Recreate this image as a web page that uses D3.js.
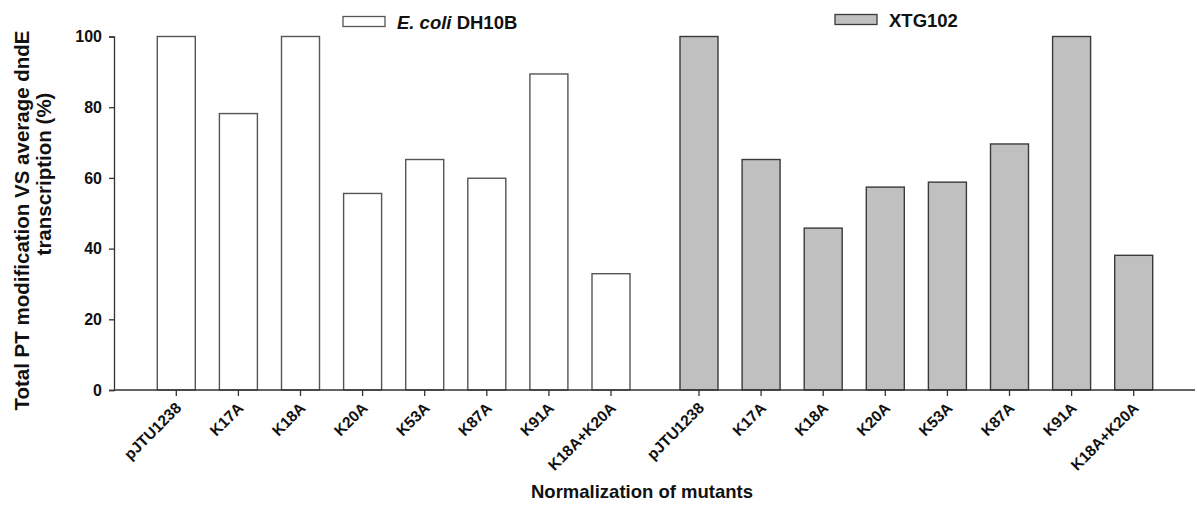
<!DOCTYPE html>
<html>
<head>
<meta charset="utf-8">
<script src="https://cdn.jsdelivr.net/npm/d3@7"></script>
<style>
  body { margin: 0; background: #fff; }
  text { font-family: "Liberation Sans", Arial, sans-serif; font-weight: bold; fill: #111; }
</style>
</head>
<body>
<script>
// categories and values
var mutants = ["pJTU1238", "K17A", "K18A", "K20A", "K53A", "K87A", "K91A", "K18A+K20A"];
var ecoliValues = [100, 78.2, 100, 55.6, 65.2, 59.9, 89.4, 32.9];
var xtgValues = [100, 65.2, 45.8, 57.4, 58.8, 69.6, 100, 38.1];
var yTicks = [0, 20, 40, 60, 80, 100];
var strains = ["E. coli DH10B", "XTG102"];

var width = 1197, height = 505;

var svg = d3.select("body").append("svg")
  .attr("width", width)
  .attr("height", height);

// gray group sits a bit further than one slot after the white one
var groupGap = 1.417;
var bars = [];
mutants.forEach(function (m, i) {
  bars.push({ name: m, value: ecoliValues[i], slot: i, group: 0 });
});
mutants.forEach(function (m, i) {
  bars.push({ name: m, value: xtgValues[i], slot: 7 + groupGap + i, group: 1 });
});

var x = d3.scaleLinear().domain([0, 14 + groupGap]).range([176.3, 1133.7]);
var y = d3.scaleLinear().domain([0, 100]).range([390, 36.5]);
var barW = 38;
var fill = d3.scaleOrdinal().domain([0, 1]).range(["#ffffff", "#c0c0c0"]);
var edge = d3.scaleOrdinal().domain([0, 1]).range(["#555555", "#3a3a3a"]);

// bars
svg.append("g").selectAll("rect")
  .data(bars)
  .enter().append("rect")
  .attr("x", function (d) { return x(d.slot) - barW / 2; })
  .attr("y", function (d) { return y(d.value); })
  .attr("width", barW)
  .attr("height", function (d) { return y(0) - y(d.value); })
  .attr("fill", function (d) { return fill(d.group); })
  .attr("stroke", function (d) { return edge(d.group); })
  .attr("stroke-width", 1.4);

// y axis
var yAxis = svg.append("g")
  .attr("transform", "translate(114,0)")
  .call(d3.axisLeft(y).tickValues(yTicks).tickSize(5).tickPadding(7));
yAxis.select(".domain").attr("stroke", "#333").attr("stroke-width", 1.3);
yAxis.selectAll(".tick line").attr("stroke", "#333").attr("stroke-width", 1.3);
yAxis.selectAll("text").style("font-size", "16px").attr("fill", "#111");

// x axis line and ticks
svg.append("line")
  .attr("x1", 114).attr("x2", 1195)
  .attr("y1", y(0)).attr("y2", y(0))
  .attr("stroke", "#333").attr("stroke-width", 1.3);

svg.append("g").selectAll("line")
  .data(bars)
  .enter().append("line")
  .attr("x1", function (d) { return x(d.slot); })
  .attr("x2", function (d) { return x(d.slot); })
  .attr("y1", y(0))
  .attr("y2", y(0) + 6)
  .attr("stroke", "#333")
  .attr("stroke-width", 1.3);

svg.append("g").selectAll("text")
  .data(bars)
  .enter().append("text")
  .attr("transform", function (d) { return "translate(" + (x(d.slot) + 6) + ",409) rotate(-45)"; })
  .attr("text-anchor", "end")
  .style("font-size", "15.5px")
  .text(function (d) { return d.name; });

// axis titles
svg.append("text")
  .attr("transform", "translate(29,220.5) rotate(-90)")
  .attr("text-anchor", "middle")
  .style("font-size", "20.5px")
  .text("Total PT modification VS average dndE");
svg.append("text")
  .attr("transform", "translate(51,174) rotate(-90)")
  .attr("text-anchor", "middle")
  .style("font-size", "20.5px")
  .text("transcription (%)");

svg.append("text")
  .attr("x", 642)
  .attr("y", 498)
  .attr("text-anchor", "middle")
  .style("font-size", "18.5px")
  .text("Normalization of mutants");

// legend
var legendPos = [{ x: 343, y: 16.5, ty: 28.5 }, { x: 835, y: 14.5, ty: 27 }];
var legend = svg.append("g").selectAll("g")
  .data(strains)
  .enter().append("g");

legend.append("rect")
  .attr("x", function (d, i) { return legendPos[i].x; })
  .attr("y", function (d, i) { return legendPos[i].y; })
  .attr("width", 42)
  .attr("height", 10)
  .attr("fill", function (d, i) { return fill(i); })
  .attr("stroke", function (d, i) { return edge(i); })
  .attr("stroke-width", 1.3);

var legendText = legend.append("text")
  .attr("x", function (d, i) { return legendPos[i].x + 54; })
  .attr("y", function (d, i) { return legendPos[i].ty; })
  .style("font-size", "18.5px");

legendText.filter(function (d, i) { return i === 0; })
  .each(function () {
    var t = d3.select(this);
    t.append("tspan").style("font-style", "italic").text("E. coli");
    t.append("tspan").text(" DH10B");
  });
legendText.filter(function (d, i) { return i === 1; })
  .text(function (d) { return d; });
</script>
</body>
</html>
